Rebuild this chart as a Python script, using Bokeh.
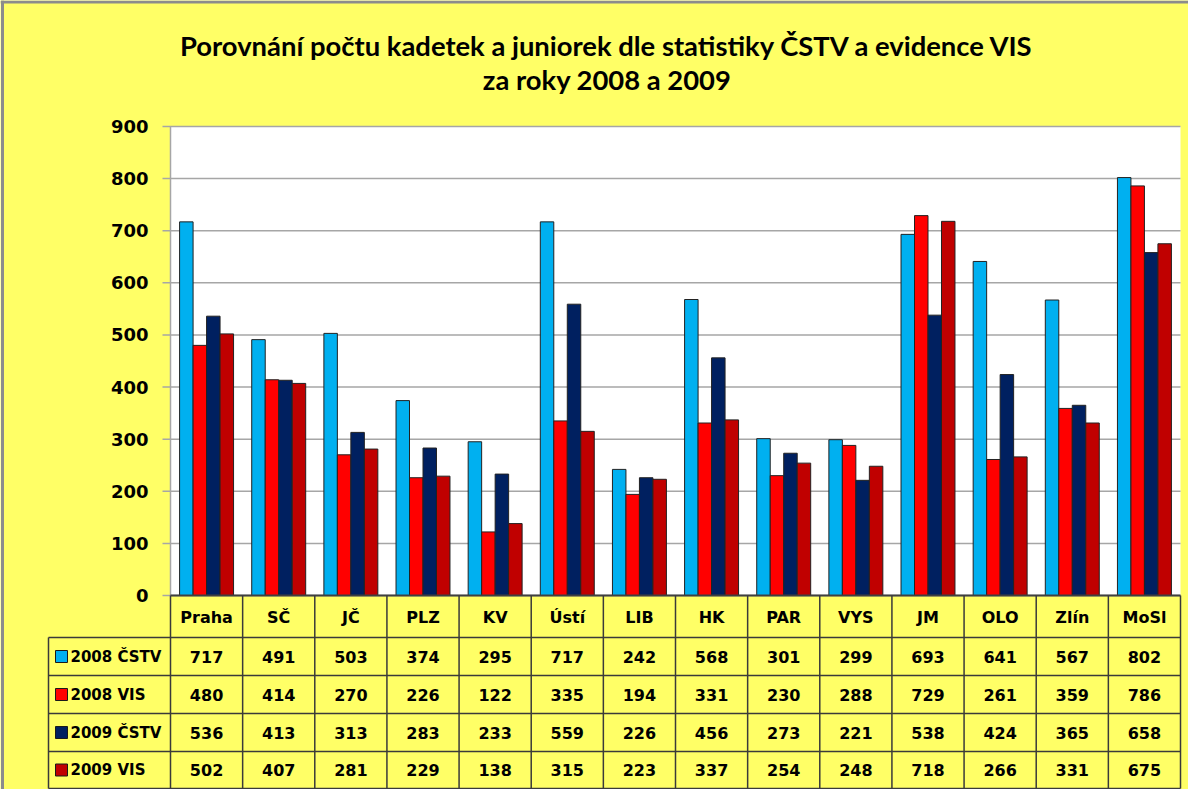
from bokeh.plotting import figure
from bokeh.models import Range1d, ColumnDataSource
from bokeh.embed import file_html
from bokeh.resources import INLINE
from bokeh.core.properties import value
from bokeh.transform import dodge

# ---------------- data ----------------
categories = ["Praha", "SČ", "JČ", "PLZ", "KV", "Ústí", "LIB", "HK", "PAR", "VYS",
              "JM", "OLO", "Zlín", "MoSl"]
cstv_2008 = [717, 491, 503, 374, 295, 717, 242, 568, 301, 299, 693, 641, 567, 802]
vis_2008 = [480, 414, 270, 226, 122, 335, 194, 331, 230, 288, 729, 261, 359, 786]
cstv_2009 = [536, 413, 313, 283, 233, 559, 226, 456, 273, 221, 538, 424, 365, 658]
vis_2009 = [502, 407, 281, 229, 138, 315, 223, 337, 254, 248, 718, 266, 331, 675]
series_labels = ["2008 ČSTV", "2008 VIS", "2009 ČSTV", "2009 VIS"]
y_ticks = [0, 100, 200, 300, 400, 500, 600, 700, 800, 900]
title_lines = ["Porovnání  počtu kadetek a juniorek dle statistiky ČSTV a evidence VIS",
               "za  roky 2008 a 2009"]

# ---------------- styles ----------------
YELLOW = "#FFFF66"
COLORS = ["#00B0F0", "#FF0000", "#002060", "#C00000"]
GRID = "#A6A6A6"
TABLE_LINE = "#3A3A3A"
FRAME_GRAY = "#8C8C8C"
FONT = value("DejaVu Sans")
TITLE_FONT = value("Lato")

n = len(categories)
series = [cstv_2008, vis_2008, cstv_2009, vis_2009]
rows = len(series)
centers = [i + 0.5 for i in range(n)]
y_max = y_ticks[-1]

# ---------------- page geometry (pixels) ----------------
W, H = 1188, 789
ORIGIN = 8                 # page margin
PLOT_L, PLOT_R = 178, 1188
ZERO_Y, TOP_Y = 603, 134
CAT_PX = (PLOT_R - PLOT_L) / n
Y_PX = (ZERO_Y - TOP_Y) / y_max


def dx(px):
    return (px - PLOT_L) / CAT_PX


def dy(py):
    return (ZERO_Y - py) / Y_PX


p = figure(width=W, height=H,
           x_range=Range1d(dx(ORIGIN), dx(ORIGIN + W)),
           y_range=Range1d(dy(ORIGIN + H), dy(ORIGIN)),
           x_axis_type=None, y_axis_type=None,
           output_backend="svg", toolbar_location=None,
           min_border_left=0, min_border_right=0, min_border_top=0, min_border_bottom=0,
           background_fill_color=YELLOW, border_fill_color=YELLOW, outline_line_color=None)
p.grid.visible = False

# outer grey frame (top and left)
p.segment(x0=[dx(ORIGIN)], y0=[dy(9.5)], x1=[dx(ORIGIN + W)], y1=[dy(9.5)],
          line_color=FRAME_GRAY, line_width=3)
p.segment(x0=[dx(10)], y0=[dy(ORIGIN)], x1=[dx(10)], y1=[dy(ORIGIN + H)],
          line_color=FRAME_GRAY, line_width=3)

# title
p.text(x=[dx(618)] * 2, y=[dy(53), dy(87)], text=title_lines, text_align="center",
       text_baseline="alphabetic", text_font=TITLE_FONT, text_font_style="bold",
       text_font_size="27.4px", text_color="black")

# plot area
p.quad(left=[0], right=[n], bottom=[0], top=[y_max], fill_color="white", line_color=None)

# gridlines with outward tick marks
tick_left = dx(170)
p.segment(x0=[tick_left] * len(y_ticks), y0=y_ticks, x1=[n] * len(y_ticks), y1=y_ticks,
          line_color=GRID, line_width=1.5)
p.segment(x0=[0], y0=[0], x1=[0], y1=[y_max], line_color=GRID, line_width=1.5)

# y tick labels
p.text(x=[dx(156)] * len(y_ticks), y=y_ticks, text=[str(t) for t in y_ticks],
       text_align="right", text_baseline="middle", text_font=FONT, text_font_style="bold",
       text_font_size="18px", text_color="black")

# bars
src = ColumnDataSource(dict(x=centers, s0=cstv_2008, s1=vis_2008, s2=cstv_2009, s3=vis_2009))
bar_w = 0.187
offsets = [-1.5 * bar_w, -0.5 * bar_w, 0.5 * bar_w, 1.5 * bar_w]
for k in range(rows):
    p.vbar(x=dodge("x", offsets[k], range=p.x_range), top="s%d" % k, width=bar_w, bottom=0,
           source=src, fill_color=COLORS[k], line_color="#222222", line_width=1)

# ---------------- data table ----------------
row_lines = [dy(645 + 38 * r) for r in range(rows)] + [dy(796)]
row_mid = [(row_lines[r] + row_lines[r + 1]) / 2 for r in range(rows)]
legend_left = dx(56)
seps = list(range(n + 1))

# axis line at zero
p.segment(x0=[0], y0=[0], x1=[n], y1=[0], line_color="#404040", line_width=2)
# column separators
p.segment(x0=seps, y0=[0] * len(seps), x1=seps, y1=[row_lines[-1]] * len(seps),
          line_color=TABLE_LINE, line_width=1.5)
# row lines
p.segment(x0=[legend_left] * len(row_lines), y0=row_lines, x1=[n] * len(row_lines),
          y1=row_lines, line_color=TABLE_LINE, line_width=1.5)
p.segment(x0=[legend_left], y0=[row_lines[0]], x1=[legend_left], y1=[row_lines[-1]],
          line_color=TABLE_LINE, line_width=1.5)

# header labels
p.text(x=centers, y=[dy(625)] * n, text=categories, text_align="center",
       text_baseline="middle", text_font=FONT, text_font_style="bold",
       text_font_size="16px", text_color="black")

# values
vx, vy, vt = [], [], []
for r, s in enumerate(series):
    for i, v in enumerate(s):
        vx.append(centers[i])
        vy.append(row_mid[r])
        vt.append(str(v))
p.text(x=vx, y=vy, text=vt, text_align="center", text_baseline="middle",
       text_font=FONT, text_font_style="bold", text_font_size="16px", text_color="black")

# legend keys
p.scatter(x=[dx(69)] * rows, y=row_mid, marker="square", size=12,
          fill_color=COLORS, line_color="#1A1A1A", line_width=1)
p.text(x=[dx(78)] * rows, y=row_mid, text=series_labels, text_align="left",
       text_baseline="middle", text_font=FONT, text_font_style="bold",
       text_font_size="15px", text_color="black")

open("out.html", "w").write(file_html(p, INLINE))
